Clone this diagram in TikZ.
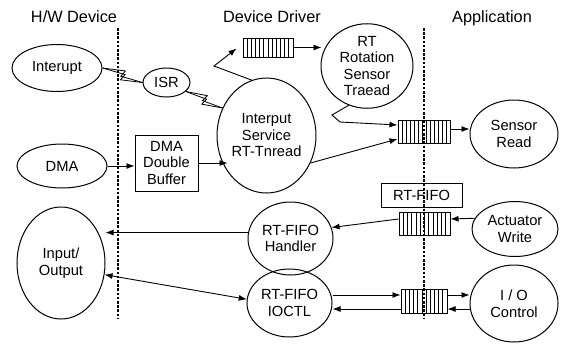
\documentclass[tikz,border=0pt]{standalone}
\usepackage{fontspec}
\setmainfont{Liberation Sans}
\usetikzlibrary{shapes.geometric,arrows.meta,calc}

\tikzset{
  body/.style={font=\fontsize{14.7}{16.5}\selectfont, align=center},
  proc/.style={ellipse, draw, line width=1pt, inner sep=0pt, body},
  boxed/.style={rectangle, draw, line width=1pt, inner sep=0pt, body},
  queue/.style={rectangle, draw, fill=white, line width=1pt, inner sep=0pt,
    path picture={
      \foreach \i [evaluate=\i as \f using \i/(#1+1)] in {1,...,#1}
        \draw[line width=0.7pt]
          ($(path picture bounding box.north west)!\f!(path picture bounding box.north east)$) --
          ($(path picture bounding box.south west)!\f!(path picture bounding box.south east)$);
    }},
  title/.style={font=\fontsize{16.3}{18}\selectfont, anchor=base},
  arr/.style={-{Latex[length=8pt,width=6pt]}, line width=0.9pt},
  darr/.style={{Latex[length=8pt,width=6pt]}-{Latex[length=8pt,width=6pt]}, line width=0.9pt},
  boltline/.style={line width=0.8pt, line join=miter},
  divider/.style={line width=1.2pt, dash pattern=on 2.6pt off 1.6pt},
}

% lightning-bolt connector between two points
\newcommand\zap[2]{%
  \draw[boltline] #1 -- ($#1!0.53!#2!5pt!90:#2$) -- ($#1!0.47!#2!-1.5pt!90:#2$) -- #2;
  \draw[boltline] #1 -- ($#1!0.55!#2!1.5pt!90:#2$) -- ($#1!0.49!#2!-5pt!90:#2$) -- #2;
}

\begin{document}
\begin{tikzpicture}[x=1pt, y=-1pt]
  \useasboundingbox (0,0) rectangle (567,343);

  % column titles
  \node[title] (t1) at (74,22) {H/W Device};
  \node[title] (t2) at (272,22) {Device Driver};
  \node[title] (t3) at (492,22) {Application};

  % hardware side
  \node[proc, minimum width=90pt, minimum height=47pt] (irq) at (57,68) {Interupt};
  \node[proc, minimum width=90pt, minimum height=44pt] (dma) at (62,166) {DMA};
  \node[proc, minimum width=88pt, minimum height=112pt] (io) at (61,263) {Input/\\Output};

  % driver side
  \node[proc, minimum width=47pt, minimum height=29pt] (isr) at (166.5,82.5) {ISR};
  \node[boxed, minimum width=63pt, minimum height=56pt] (buf) at (166.5,163) {DMA\\Double\\Buffer};
  \node[proc, minimum width=87pt, minimum height=115pt] (intp) at (266.5,135.5) {Interput\\Service\\RT-Tnread};
  \node[queue=11, minimum width=50pt, minimum height=19pt] (q1) at (268,47.5) {};
  \node[proc, minimum width=92pt, minimum height=78pt] (rot) at (367,66) {RT\\Rotation\\Sensor\\Traead};
  \node[proc, minimum width=85pt, minimum height=73pt] (hand) at (290.5,238.5) {RT-FIFO\\Handler};
  \node[proc, minimum width=85pt, minimum height=68pt] (ioctl) at (289.5,303) {RT-FIFO\\IOCTL};

  % queues on the boundary
  \node[queue=12, minimum width=52pt, minimum height=23pt] (q2) at (424,131.5) {};
  \node[boxed, minimum width=81pt, minimum height=24pt] (lbl) at (421.5,195) {RT-FIFO};
  \node[queue=11, minimum width=51pt, minimum height=23pt] (q3) at (424.5,223.5) {};
  \node[queue=10, minimum width=46pt, minimum height=24pt] (q4) at (424,301) {};

  % application side
  \node[proc, minimum width=88pt, minimum height=68pt] (sens) at (514,134) {Sensor\\Read};
  \node[proc, minimum width=86pt, minimum height=55pt] (act) at (515,229) {Actuator\\Write};
  \node[proc, minimum width=88pt, minimum height=77pt] (ioc) at (514,303.5) {I / O\\Control};

  % interrupt path
  \zap{(irq.east)}{(isr.west)}
  \zap{(isr.-25)}{(intp.148)}

  % DMA path
  \draw[arr] (dma.east) -- (dma.east -| buf.west);
  \draw[arr] (buf.east) -- ($(buf.east)+(29,0)$);

  % sensor path
  \coordinate (k1) at (214,66);
  \draw[arr] (intp.105) -- (k1) -- ($(q1.west)+(-6,1)$);
  \draw[arr] (q1.east) -- ++(28,0);
  \coordinate (k2) at (332,115);
  \coordinate (k3) at (340,122);
  \draw[arr] (rot.-115) -- (k2) -- (k3) -- ($(q2.west)+(0,-6.5)$);
  \draw[arr] (intp.-32) -- ($(q2.west)+(0,7.5)$);
  \draw[arr] ($(q2.east)+(0,-2.5)$) -- ($(q2.east -| sens.west)+(0,-2.5)$);

  % actuator path
  \coordinate (qa) at ($(q3.east)+(0,-4.5)$);
  \coordinate (qb) at ($(q3.west)+(0,-4.5)$);
  \draw[arr] (act.165) -- (qa);
  \draw[arr] (qb) -- (hand.15);
  \draw[arr] (hand.172) -- (hand.172 -| io.east);

  % ioctl path
  \draw[darr] (io.-15) -- (ioctl.175);
  \coordinate (w1) at ($(q4.west)+(0,-6)$);
  \coordinate (w2) at ($(q4.west)+(0,8)$);
  \coordinate (e1) at ($(q4.east)+(0,-6)$);
  \coordinate (e2) at ($(q4.east)+(0,8)$);
  \draw[arr] (w1 -| ioctl.east) -- (w1);
  \draw[arr] (w2) -- (w2 -| ioctl.east);
  \draw[arr] (e1) -- (e1 -| ioc.west);
  \draw[arr] (e2 -| ioc.west) -- (e2);

  % layer boundaries
  \coordinate (d1a) at (118,28);
  \coordinate (d1b) at (118,318);
  \coordinate (d2a) at (424,28);
  \coordinate (d2b) at (424,318);
  \draw[divider] (d1a) -- (d1b);
  \draw[divider] (d2a) -- (d2b);
\end{tikzpicture}
\end{document}
